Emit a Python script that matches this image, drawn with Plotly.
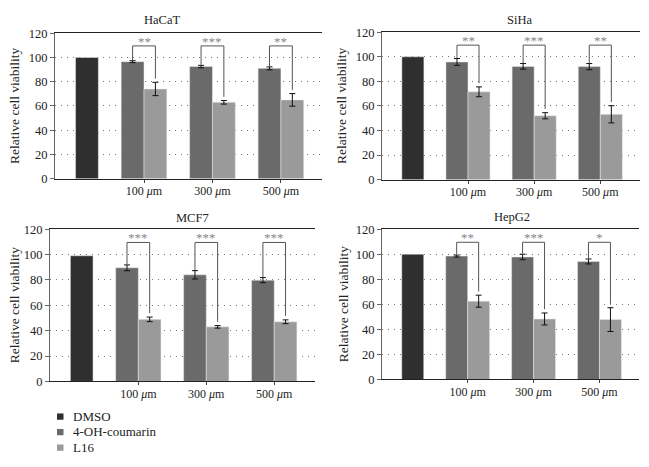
import plotly.graph_objects as go

# ---------------- data ----------------
categories = ["control", "100 μm", "300 μm", "500 μm"]
tick_labels = ["100 <i>μ</i>m", "300 <i>μ</i>m", "500 <i>μ</i>m"]
series_names = ["DMSO", "4-OH-coumarin", "L16"]
panel_names = ["HaCaT", "SiHa", "MCF7", "HepG2"]

dmso_vals = [100.0, 100.0, 99.0, 100.0]

coumarin_hacat = [96.5, 92.5, 91.0]
coumarin_hacat_err = [0.8, 1.0, 1.2]
l16_hacat = [74.0, 63.0, 65.0]
l16_hacat_err = [5.5, 1.5, 5.2]
stars_hacat = ["**", "***", "**"]

coumarin_siha = [95.8, 92.2, 92.0]
coumarin_siha_err = [2.8, 2.3, 2.5]
l16_siha = [71.5, 52.0, 53.2]
l16_siha_err = [4.0, 2.5, 7.0]
stars_siha = ["**", "***", "**"]

coumarin_mcf7 = [89.5, 84.0, 79.8]
coumarin_mcf7_err = [2.3, 3.3, 2.0]
l16_mcf7 = [48.9, 43.0, 47.0]
l16_mcf7_err = [1.8, 1.0, 1.5]
stars_mcf7 = ["***", "***", "***"]

coumarin_hepg2 = [98.5, 97.8, 94.2]
coumarin_hepg2_err = [0.8, 2.2, 2.0]
l16_hepg2 = [62.5, 48.3, 47.8]
l16_hepg2_err = [4.8, 4.8, 9.5]
stars_hepg2 = ["**", "***", "*"]

y_ticks = [0, 20, 40, 60, 80, 100, 120]

# ---------------- style ----------------
colors = ["#2f2f2f", "#6a6a6a", "#9a9a9a"]
FONT = "Liberation Serif"
W, H = 649, 467
BAR_W = 1 / 3
BRACKET_Y = 109.5

panels = [
    dict(name=panel_names[0], dmso=dmso_vals[0], c=coumarin_hacat, ce=coumarin_hacat_err,
         l=l16_hacat, le=l16_hacat_err, s=stars_hacat,
         px=(55, 322), py=(27, 177), title=(162, 13), ytitle=15),
    dict(name=panel_names[1], dmso=dmso_vals[1], c=coumarin_siha, ce=coumarin_siha_err,
         l=l16_siha, le=l16_siha_err, s=stars_siha,
         px=(382, 640), py=(26, 178), title=(519, 13), ytitle=342),
    dict(name=panel_names[2], dmso=dmso_vals[2], c=coumarin_mcf7, ce=coumarin_mcf7_err,
         l=l16_mcf7, le=l16_mcf7_err, s=stars_mcf7,
         px=(50, 315), py=(229, 386), title=(192, 218), ytitle=14),
    dict(name=panel_names[3], dmso=dmso_vals[3], c=coumarin_hepg2, ce=coumarin_hepg2_err,
         l=l16_hepg2, le=l16_hepg2_err, s=stars_hepg2,
         px=(382, 639), py=(229, 384), title=(512, 217), ytitle=343),
]

fig = go.Figure()
layout = dict(
    width=W, height=H, margin=dict(l=0, r=0, t=0, b=0),
    paper_bgcolor="white", plot_bgcolor="white",
    barmode="overlay", showlegend=False,
    font=dict(family=FONT, size=12, color="#222"),
)
shapes = []
annotations = []

for i, p in enumerate(panels):
    n = "" if i == 0 else str(i + 1)
    xa, ya = "x" + n, "y" + n
    err_style = dict(type="data", color="#111", thickness=1, width=3, visible=True)
    fig.add_trace(go.Bar(x=[categories[0]], y=[p["dmso"]], name=series_names[0],
                         marker=dict(color=colors[0]), width=BAR_W, offset=0,
                         xaxis=xa, yaxis=ya))
    fig.add_trace(go.Bar(x=categories[1:], y=p["c"], name=series_names[1],
                         marker=dict(color=colors[1]), width=BAR_W, offset=-BAR_W,
                         error_y=dict(array=p["ce"], **err_style),
                         xaxis=xa, yaxis=ya))
    fig.add_trace(go.Bar(x=categories[1:], y=p["l"], name=series_names[2],
                         marker=dict(color=colors[2]), width=BAR_W, offset=0,
                         error_y=dict(array=p["le"], **err_style),
                         xaxis=xa, yaxis=ya))

    x0, x1 = p["px"]
    y0, y1 = p["py"]
    layout["xaxis" + n] = dict(
        domain=[x0 / W, x1 / W], anchor=ya, type="category",
        categoryorder="array", categoryarray=categories,
        range=[-0.3, 3.6], showgrid=False, showline=True, linecolor="#222",
        linewidth=1, mirror=True, ticks="outside", ticklen=3, tickcolor="#444",
        tickvals=categories[1:], ticktext=tick_labels, ticklabelstandoff=-2,
        tickfont=dict(family=FONT, size=12, color="#222"), zeroline=False,
    )
    layout["yaxis" + n] = dict(
        domain=[1 - y1 / H, 1 - y0 / H], anchor=xa, range=[0, 120],
        tickvals=y_ticks, showgrid=True, gridcolor="#777", griddash="1px,5px",
        gridwidth=1, showline=True, linecolor="#666", linewidth=1,
        ticks="outside", ticklen=4, tickcolor="#666",
        tickfont=dict(family=FONT, size=12.5, color="#222"), zeroline=False,
    )

    # significance brackets, derived from the data
    for k in range(3):
        cx = k + 1 - BAR_W / 2
        lx = k + 1 + BAR_W / 2
        ltop = p["c"][k] + p["ce"][k] + 0.5
        rtop = p["l"][k] + p["le"][k] + 3
        line = dict(color="#555", width=1)
        shapes.append(dict(type="line", xref=xa, yref=ya, x0=cx, x1=cx,
                           y0=ltop, y1=BRACKET_Y, line=line))
        shapes.append(dict(type="line", xref=xa, yref=ya, x0=cx, x1=lx,
                           y0=BRACKET_Y, y1=BRACKET_Y, line=line))
        shapes.append(dict(type="line", xref=xa, yref=ya, x0=lx, x1=lx,
                           y0=rtop, y1=BRACKET_Y, line=line))
        annotations.append(dict(xref=xa, yref=ya, x=k + 1, y=BRACKET_Y,
                                text=p["s"][k], showarrow=False, yanchor="bottom",
                                yshift=-5, font=dict(family=FONT, size=13, color="#888")))

    # panel title
    tx, ty = p["title"]
    annotations.append(dict(xref="paper", yref="paper", x=tx / W, y=1 - ty / H,
                            text=p["name"], showarrow=False, xanchor="center",
                            yanchor="middle", font=dict(family=FONT, size=12.5, color="#222")))
    # y-axis title
    annotations.append(dict(xref="paper", yref="paper", x=p["ytitle"] / W,
                            y=1 - (y0 + y1) / 2 / H, text="Relative cell viability",
                            textangle=-90, showarrow=False, xanchor="center",
                            yanchor="middle", font=dict(family=FONT, size=13.5, color="#222")))

# legend (drawn in paper space: small squares + labels)
legend_rows = [422, 438, 454]
for name, col, ry in zip(series_names, colors, legend_rows):
    shapes.append(dict(type="rect", xref="paper", yref="paper",
                       x0=57 / W, x1=63.5 / W, y0=1 - (ry + 3.5) / H, y1=1 - (ry - 3) / H,
                       fillcolor=col, line=dict(width=0)))
    annotations.append(dict(xref="paper", yref="paper", x=71 / W, y=1 - ry / H,
                            text=name, showarrow=False, xanchor="left", yanchor="middle",
                            font=dict(family=FONT, size=13, color="#222")))

layout["shapes"] = shapes
layout["annotations"] = annotations
fig.update_layout(**layout)

fig.write_html(
    "out.html",
    config={"displayModeBar": False},
    post_script=(
        "document.body.style.margin='0';"
        "document.body.style.overflow='hidden';"
        "document.documentElement.style.overflow='hidden';"
    ),
)
